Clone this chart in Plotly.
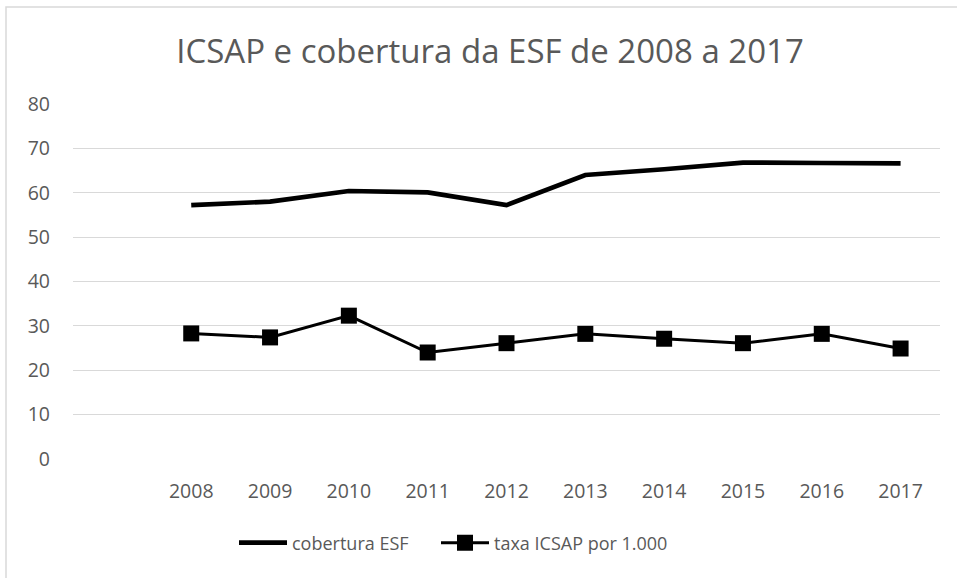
import plotly.graph_objects as go

years = ["2008", "2009", "2010", "2011", "2012", "2013", "2014", "2015", "2016", "2017"]
cobertura_esf = [57.2, 58.0, 60.4, 60.1, 57.2, 64.0, 65.3, 66.8, 66.7, 66.6]
taxa_icsap = [28.3, 27.4, 32.3, 24.0, 26.1, 28.2, 27.1, 26.1, 28.2, 24.9]
y_ticks = [0, 10, 20, 30, 40, 50, 60, 70, 80]

# category slot 0 is an empty category in the original chart
xpos = list(range(1, len(years) + 1))

W, H = 957, 578
L, R, T, B = 73, 17, 104, 119
pw, ph = W - L - R, H - T - B

fig = go.Figure()
fig.add_trace(go.Scatter(
    x=xpos, y=cobertura_esf, mode="lines", name="cobertura ESF",
    line=dict(color="black", width=4.7), legendwidth=139,
))
fig.add_trace(go.Scatter(
    x=xpos, y=taxa_icsap, mode="lines+markers", name="taxa ICSAP por 1.000",
    line=dict(color="black", width=3),
    marker=dict(symbol="square", size=16, color="black"), legendwidth=240,
))

font_fam = "Open Sans, Liberation Sans, sans-serif"
fig.update_layout(
    width=W, height=H,
    margin=dict(l=L, r=R, t=T, b=B),
    paper_bgcolor="white", plot_bgcolor="white",
    font=dict(family=font_fam, color="#595959", size=19),
    title=dict(text="ICSAP e cobertura da ESF de 2008 a 2017",
               x=490 / W, xanchor="center", y=1 - 51 / H, yanchor="middle",
               font=dict(size=33, color="#595959", family=font_fam)),
    showlegend=True,
    legend=dict(orientation="h", x=(234 - L) / pw, xanchor="left",
                y=-(543 - (T + ph)) / ph, yanchor="middle",
                font=dict(size=18, color="#595959"), itemwidth=48,
                tracegroupgap=0, bgcolor="rgba(0,0,0,0)"),
    xaxis=dict(range=[-0.5, 10.5], tickmode="array", tickvals=xpos, ticktext=years,
               showgrid=False, zeroline=False, showline=False, ticks="",
               ticklabelstandoff=18,
               tickfont=dict(size=19.5, color="#595959"), fixedrange=True),
    yaxis=dict(range=[0, 80], tickmode="array", tickvals=y_ticks,
               showgrid=True, gridcolor="#d9d9d9", gridwidth=1.3, zeroline=False,
               showline=False, ticks="", ticklabelstandoff=22,
               tickfont=dict(size=19.5, color="#595959"), fixedrange=True),
)

# chart frame (light gray border, partially off-canvas)
fig.add_shape(type="rect", xref="paper", yref="paper",
              x0=(6 - L) / pw, x1=(W + 10 - L) / pw,
              y0=-(H + 10 - (T + ph)) / ph, y1=1 + (T - 7) / ph,
              line=dict(color="#d9d9d9", width=1.5), layer="below")

fig.write_html("out.html", config={"displayModeBar": False},
               post_script="document.body.style.margin='0';")
